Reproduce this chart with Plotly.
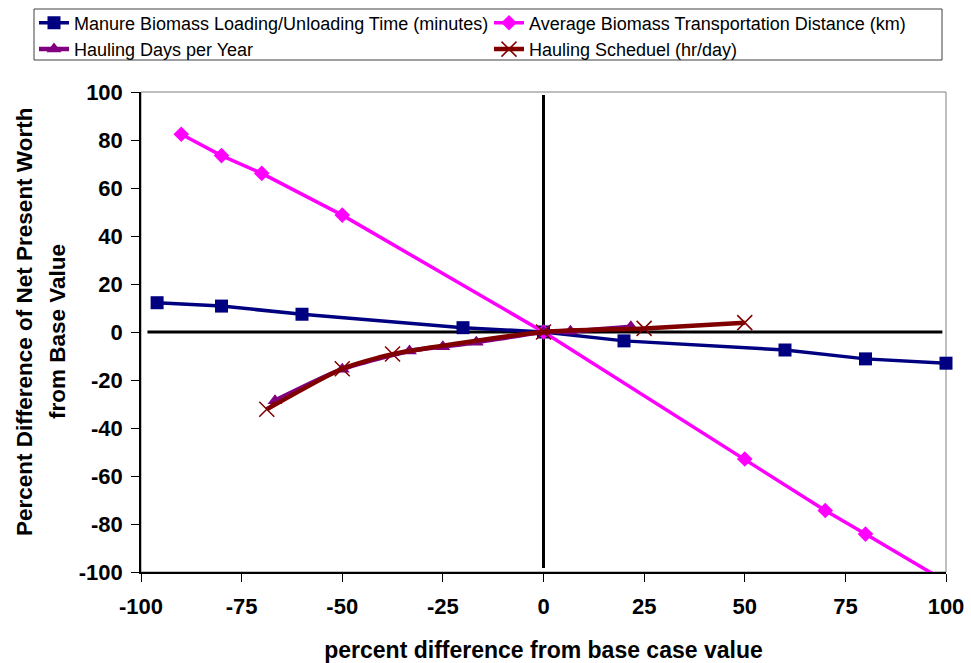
import plotly.graph_objects as go

# Sensitivity of net present worth to hauling parameters (% change from base case)
manure_x = [-96, -80, -60, -20, 0, 20, 60, 80, 100]
manure_y = [12.2, 10.8, 7.4, 1.8, 0, -3.7, -7.5, -11.2, -13.0]

distance_x = [-90, -80, -70, -50, 0, 50, 70, 80, 100]
distance_y = [82.4, 73.5, 66.1, 48.7, 0, -52.9, -74.4, -84.2, -104.0]

days_x = [-66.7, -50, -33.3, -25, -16.7, 0, 6.7, 21.7]
days_y = [-28.6, -15.5, -7.9, -6.1, -4.3, 0, 0.3, 2.2]

schedule_x = [-68.75, -50, -37.5, 0, 25, 50]
schedule_y = [-32.2, -15.3, -9.2, 0, 1.5, 3.9]

x_ticks = [-100, -75, -50, -25, 0, 25, 50, 75, 100]
y_ticks = [-100, -80, -60, -40, -20, 0, 20, 40, 60, 80, 100]

y_title_lines = ["Percent Difference of Net Present Worth", "from Base Value"]

FONT = "Liberation Sans, Arial, sans-serif"

# plot area in pixels, used to place paper-referenced items
L, R, T, B = 141, 946, 92, 572
W, H = R - L, B - T


def px_x(px):
    return (px - L) / W


def px_y(py):
    return (B - py) / H


fig = go.Figure()

fig.add_trace(go.Scatter(
    x=manure_x, y=manure_y, mode="lines+markers",
    name="Manure Biomass Loading/Unloading Time (minutes)",
    line=dict(color="#000080", width=3.5),
    marker=dict(symbol="square", size=13, color="#000080"),
    cliponaxis=False,
))
fig.add_trace(go.Scatter(
    x=distance_x, y=distance_y, mode="lines+markers",
    name="Average Biomass Transportation Distance (km)",
    line=dict(color="#FF00FF", width=3.5),
    marker=dict(symbol="diamond", size=12, color="#FF00FF"),
))
fig.add_trace(go.Scatter(
    x=days_x, y=days_y, mode="lines+markers",
    name="Hauling Days per Year",
    line=dict(color="#800080", width=4.5, shape="spline", smoothing=0.6),
    marker=dict(symbol="triangle-up", size=13, color="#800080"),
))
fig.add_trace(go.Scatter(
    x=schedule_x, y=schedule_y, mode="lines+markers",
    name="Hauling Scheduel (hr/day)",
    line=dict(color="#800000", width=4.5, shape="spline", smoothing=0.6),
    marker=dict(symbol="x-thin", size=15, color="#800000",
                line=dict(color="#800000", width=1.5)),
))

# Zero reference lines through the middle of the plot
fig.add_shape(type="line", x0=-98.4, x1=99.1, y0=0, y1=0,
              line=dict(color="black", width=3), layer="below")
fig.add_shape(type="line", x0=0, x1=0, y0=-98.3, y1=98.7,
              line=dict(color="black", width=3), layer="below")
# Thin grey frame on the top and right sides
fig.add_shape(type="rect", xref="paper", yref="paper", x0=0, x1=1, y0=0, y1=1,
              line=dict(color="#808080", width=1), layer="below")
# Legend frame
fig.add_shape(type="rect", xref="paper", yref="paper",
              x0=px_x(34), x1=px_x(942), y0=px_y(60), y1=px_y(9),
              line=dict(color="#404040", width=1))

# Two-line rotated y-axis title
for text, cx, cy in zip(y_title_lines, [24, 57], [322, 332]):
    fig.add_annotation(
        text=text, xref="paper", yref="paper", x=px_x(cx), y=px_y(cy),
        xanchor="center", yanchor="middle", textangle=-90, showarrow=False,
        font=dict(family=FONT, size=22.5, color="black", weight="bold"),
    )

fig.update_xaxes(
    range=[-100, 100], tickvals=x_ticks, ticktext=[str(v) for v in x_ticks],
    showgrid=False, zeroline=False, showline=True, linecolor="black", linewidth=1.5,
    ticks="outside", ticklen=8, tickcolor="black", tickwidth=1,
    ticklabelstandoff=6,
    tickfont=dict(family=FONT, size=22, color="black", weight="bold"),
    title=dict(text="percent difference from base case value", standoff=27,
               font=dict(family=FONT, size=23, color="black", weight="bold")),
)
fig.update_yaxes(
    range=[-100, 100], tickvals=y_ticks, ticktext=[str(v) for v in y_ticks],
    showgrid=False, zeroline=False, showline=True, linecolor="black", linewidth=1.5,
    ticks="outside", ticklen=8, tickcolor="black", tickwidth=1,
    ticklabelstandoff=4,
    tickfont=dict(family=FONT, size=22, color="black", weight="bold"),
)

fig.update_layout(
    width=971, height=663,
    margin=dict(l=L, r=971 - R, t=T, b=663 - B, autoexpand=False),
    plot_bgcolor="white", paper_bgcolor="white",
    legend=dict(
        orientation="h", x=px_x(34), y=px_y(4.5), xanchor="left", yanchor="top",
        entrywidth=410, entrywidthmode="pixels",
        borderwidth=0, bgcolor="rgba(0,0,0,0)",
        font=dict(family=FONT, size=18, color="black"),
        tracegroupgap=0,
    ),
)

fig.write_html("out.html")
